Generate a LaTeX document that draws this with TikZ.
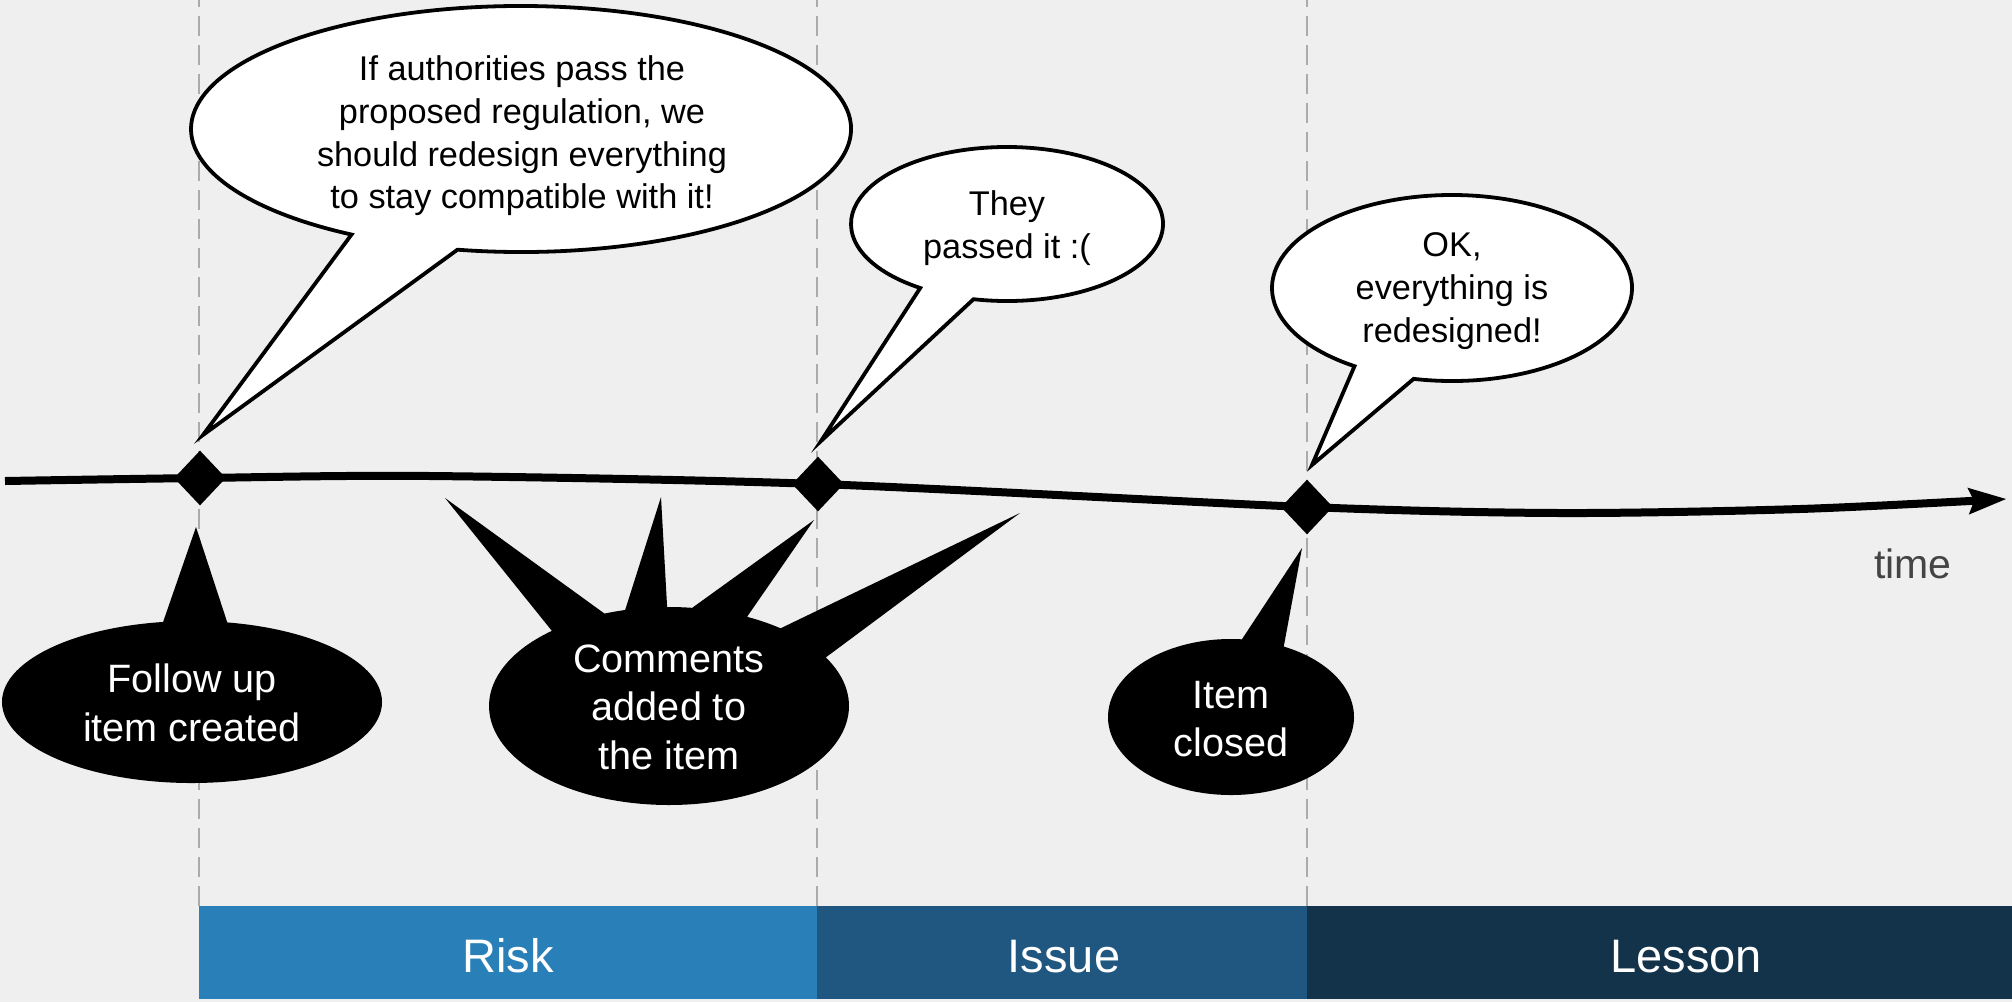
\documentclass[tikz,border=0pt]{standalone}
\usepackage{fontspec}
\setmainfont{Liberation Sans}
\usetikzlibrary{shapes.geometric,arrows.meta}
\definecolor{bgc}{HTML}{EFEFEF}
\definecolor{riskc}{HTML}{2980B9}
\definecolor{issuec}{HTML}{1F5780}
\definecolor{lessonc}{HTML}{123349}
\definecolor{dashc}{HTML}{ABABAB}
\definecolor{timec}{HTML}{444444}
\begin{document}
\begin{tikzpicture}[x=0.5pt,y=0.5pt,
  guide/.style={dashc, line width=1.35pt, dash pattern=on 10pt off 4.5pt, dash phase=6.5pt},
  phasetext/.style={inner sep=0pt, text=white, font=\fontsize{23.5pt}{28pt}\selectfont},
  event/.style={diamond, fill=black, inner sep=0pt, minimum width=26pt, minimum height=27.5pt},
  saybub/.style={fill=white, draw=black, line width=1.9pt},
  notebub/.style={fill=black},
  saytext/.style={align=center, inner sep=0pt, font=\fontsize{17.15pt}{21.3pt}\selectfont},
  notetext/.style={align=center, inner sep=0pt, text=white, font=\fontsize{19.8pt}{24.25pt}\selectfont},
  timeline/.style={line width=4pt, -{Stealth[length=19pt,width=13.5pt,inset=3pt,line width=0pt]}}
]
\fill[bgc] (0,0) rectangle (2012,-1002);
\useasboundingbox (0,0) rectangle (2012,-1002);

% dashed guides
\coordinate (g1t) at (199,0);  \coordinate (g1b) at (199,-906);
\coordinate (g2t) at (817,0);  \coordinate (g2b) at (817,-906);
\coordinate (g3t) at (1307,0); \coordinate (g3b) at (1307,-906);
\draw[guide] (g1t) -- (g1b);
\draw[guide] (g2t) -- (g2b);
\draw[guide] (g3t) -- (g3b);

% phase bars
\fill[riskc] (199,-906) rectangle (817,-999);
\fill[issuec] (817,-906) rectangle (1307,-999);
\fill[lessonc] (1307,-906) rectangle (2012,-999);
\node[phasetext, anchor=base] (risk) at (508,-972) {Risk};
\node[phasetext, anchor=base] (issue) at (1064,-972) {Issue};
\node[phasetext, anchor=base] (lesson) at (1686,-972) {Lesson};

% timeline
\coordinate (tl0) at (5,-481);
\coordinate (tlA) at (430,-476);
\coordinate (tlB) at (1560,-513);
\coordinate (tlC) at (1800,-509);
\coordinate (tlend) at (2006,-499);
\node[event] (ev1) at (200,-478) {};
\node[event] (ev2) at (818,-484) {};
\node[event] (ev3) at (1307,-507) {};
\draw[timeline] plot[smooth, tension=0.5] coordinates {(tl0) (ev1.center) (tlA) (ev2.center) (ev3.center) (tlB) (tlC) (tlend)};
\node[text=timec, font=\fontsize{20.5pt}{24pt}\selectfont, anchor=base, inner sep=0pt] (time) at (1913,-578) {time};

% black note bubbles
\fill[notebub] ([shift={(192,-702)}]98.75:190 and 81) arc[start angle=98.75, end angle=439.3, x radius=190, y radius=81] -- (196,-527) -- cycle;
\fill[notebub] ([shift={(669,-706)}]130.6:180 and 99) arc[start angle=130.6, end angle=389.4, x radius=180, y radius=99]
  -- (1020,-513) -- ([shift={(669,-706)}]51.7:180 and 99) arc[start angle=51.7, end angle=64.3, x radius=180, y radius=99]
  -- (814,-520) -- ([shift={(669,-706)}]82.6:180 and 99) arc[start angle=82.6, end angle=90.6, x radius=180, y radius=99]
  -- (661,-497) -- ([shift={(669,-706)}]104.1:180 and 99) arc[start angle=104.1, end angle=111.0, x radius=180, y radius=99]
  -- (445,-498) -- cycle;
\fill[notebub] ([shift={(1231,-717)}]84.9:123 and 78) arc[start angle=84.9, end angle=424.6, x radius=123, y radius=78] -- (1302,-548) -- cycle;

% white speech bubbles
\draw[saybub] ([shift={(521,-129)}]258.9:330 and 123) arc[start angle=258.9, end angle=599.1, x radius=330, y radius=123] -- (203,-435) -- cycle;
\draw[saybub] ([shift={(1007,-224)}]257.6:156 and 77) arc[start angle=257.6, end angle=596.2, x radius=156, y radius=77] -- (821,-441) -- cycle;
\draw[saybub] ([shift={(1452,-288)}]257.7:180 and 93) arc[start angle=257.7, end angle=597.2, x radius=180, y radius=93] -- (1312,-465) -- cycle;

% texts
\node[saytext] (sayA) at (522,-136) {If authorities pass the\\proposed regulation, we\\should redesign everything\\to stay compatible with it!};
\node[saytext] (sayB) at (1007,-228) {They\\passed it :(};
\node[saytext] (sayC) at (1452,-291) {OK,\\everything is\\redesigned!};
\node[notetext] (noteA) at (192,-703) {Follow up\\item created};
\node[notetext] (noteB) at (669,-707) {Comments\\added to\\the item};
\node[notetext] (noteC) at (1231,-719) {Item\\closed};
\end{tikzpicture}
\end{document}
